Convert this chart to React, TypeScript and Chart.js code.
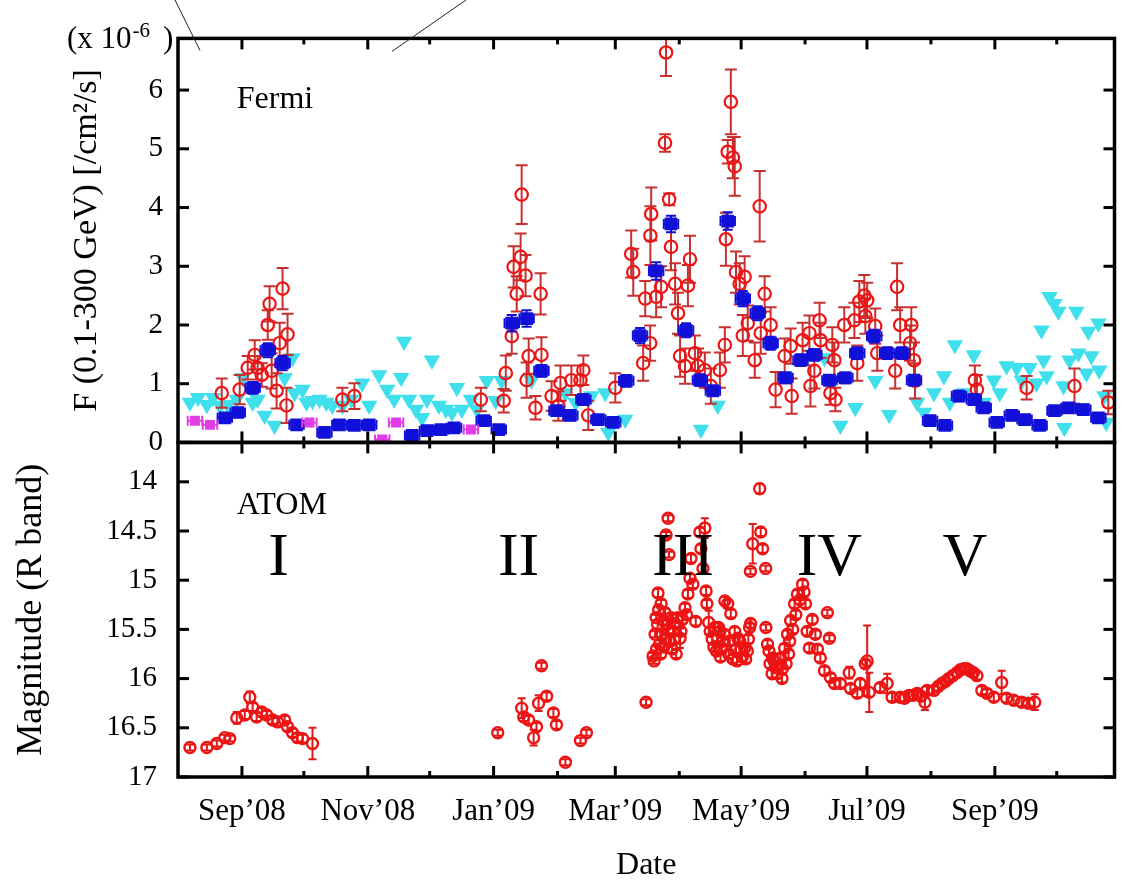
import React, { useEffect, useRef } from 'react';
import { Chart, registerables } from 'chart.js';

Chart.register(...registerables);

const FONT = "'Liberation Serif', 'Times New Roman', serif";

// x axis: days since 2008-08-01
const X_MIN = 0;
const X_MAX = 454;
const monthStartDays = [31, 61, 92, 122, 153, 184, 212, 243, 273, 304, 334, 365, 396, 426];
const labelledMonthDays = [31, 92, 153, 212, 273, 334, 396];
const monthLabels = ['Sep\u201908', 'Nov\u201908', 'Jan\u201909', 'Mar\u201909', 'May\u201909', 'Jul\u201909', 'Sep\u201909'];

const fluxTicks = [0, 1, 2, 3, 4, 5, 6];
const magTicks = [14, 14.5, 15, 15.5, 16, 16.5, 17];

// Fermi daily flux (x1e-6 /cm2/s)
const fermiDailyDay = [
  21.2, 29.9, 33.8, 37.2, 38.6, 40.6, 43.5, 44.4, 45.4, 47.8,
  49.3, 50.7, 52.6, 53.1, 79.7, 85.5, 146.8, 157.9, 158.9, 161.8,
  162.7, 164.2, 166.1, 166.6, 168.5, 169.0, 170.0, 173.3, 175.8, 176.2,
  181.1, 184.4, 185.4, 190.7, 195.1, 196.5, 198.9, 212.0, 219.7, 220.7,
  225.5, 226.5, 228.9, 229.0, 229.4, 231.8, 234.2, 236.1, 236.6, 238.1,
  239.0, 241.0, 242.4, 243.4, 245.8, 247.2, 248.2, 250.6, 252.1, 255.4,
  258.3, 262.7, 265.1, 265.6, 266.5, 268.0, 269.0, 269.9, 270.5, 272.3,
  273.8, 274.7, 276.2, 279.6, 282.0, 282.5, 284.4, 287.3, 289.7, 294.1,
  297.0, 297.5, 302.8, 306.1, 306.6, 308.5, 311.0, 311.5, 316.3, 317.2,
  318.2, 318.7, 323.0, 327.9, 329.3, 330.3, 332.7, 333.2, 334.1, 338.0,
  339.0, 347.7, 348.6, 350.1, 354.9, 355.5, 356.8, 357.3, 386.3, 387.3,
  411.4, 434.6, 451.0,
];
const fermiDailyFlux = [
  0.84, 0.90, 1.27, 1.49, 1.27, 1.15, 2.00, 2.36, 1.22, 0.88,
  1.69, 2.62, 0.63, 1.84, 0.73, 0.79, 0.73, 0.71, 1.18, 1.81,
  2.99, 2.53, 3.16, 4.22, 2.84, 1.06, 1.47, 0.59, 2.53, 1.49,
  0.79, 0.62, 1.01, 1.06, 1.06, 1.23, 0.46, 0.93, 3.21, 2.90,
  1.35, 2.45, 1.69, 3.52, 3.89, 2.48, 2.65, 5.10, 6.64, 4.14,
  3.33, 2.70, 2.20, 1.47, 1.30, 2.67, 3.12, 1.52, 1.30, 1.23,
  0.96, 1.23, 1.66, 3.46, 4.95, 5.80, 4.85, 4.70, 2.90, 2.70,
  1.82, 2.82, 2.03, 1.40, 4.02, 1.86, 2.53, 2.00, 0.90, 1.47,
  1.64, 0.79, 1.74, 1.86, 0.96, 1.22, 2.08, 1.74, 0.84, 1.66,
  1.40, 0.73, 2.00, 2.08, 1.35, 2.40, 2.50, 2.15, 2.42, 1.98,
  1.52, 1.22, 2.65, 2.00, 1.69, 2.00, 1.40, 1.05, 1.06, 0.90,
  0.93, 0.96, 0.68,
];
const fermiDailyErr = [
  0.25, 0.25, 0.20, 0.25, 0.20, 0.20, 0.25, 0.30, 0.30, 0.30,
  0.35, 0.35, 0.30, 0.35, 0.20, 0.22, 0.20, 0.20, 0.30, 0.30,
  0.35, 0.30, 0.40, 0.50, 0.35, 0.30, 0.30, 0.20, 0.35, 0.30,
  0.25, 0.25, 0.30, 0.25, 0.25, 0.25, 0.25, 0.25, 0.40, 0.40,
  0.30, 0.30, 0.30, 0.50, 0.45, 0.35, 0.35, 0.15, 0.40, 0.10,
  0.40, 0.35, 0.35, 0.35, 0.30, 0.35, 0.40, 0.30, 0.30, 0.30,
  0.30, 0.30, 0.30, 0.45, 0.20, 0.55, 0.35, 0.50, 0.35, 0.35,
  0.35, 0.35, 0.30, 0.30, 0.60, 0.35, 0.30, 0.30, 0.30, 0.30,
  0.30, 0.30, 0.30, 0.30, 0.35, 0.30, 0.30, 0.30, 0.20, 0.30,
  0.30, 0.20, 0.30, 0.30, 0.30, 0.35, 0.35, 0.30, 0.30, 0.30,
  0.30, 0.30, 0.40, 0.30, 0.30, 0.30, 0.30, 0.30, 0.25, 0.25,
  0.20, 0.30, 0.20,
];

// Fermi weekly flux
const fermiWeeklyDay = [
  22.7, 29.0, 36.2, 43.5, 50.7, 57.5, 71.0, 78.2, 85.5, 92.7,
  113.5, 120.7, 127.5, 133.8, 148.2, 155.5, 161.8, 169.0, 176.2, 183.5,
  190.2, 196.5, 203.8, 211.0, 217.3, 224.0, 231.8, 239.0, 246.3, 253.0,
  259.3, 266.5, 273.8, 281.0, 287.3, 294.5, 301.8, 308.5, 315.8, 323.5,
  329.3, 337.5, 343.8, 351.0, 356.8, 364.6, 371.8, 378.6, 385.8, 390.6,
  396.9, 404.2, 410.4, 417.7, 424.9, 431.7, 438.9, 446.2,
];
const fermiWeeklyFlux = [
  0.42, 0.51, 0.93, 1.57, 1.35, 0.30, 0.17, 0.30, 0.29, 0.30,
  0.12, 0.20, 0.22, 0.25, 0.37, 0.22, 2.03, 2.11, 1.22, 0.54,
  0.46, 0.73, 0.39, 0.34, 1.05, 1.82, 2.92, 3.72, 1.91, 1.06,
  0.88, 3.77, 2.45, 2.20, 1.69, 1.10, 1.40, 1.49, 1.06, 1.10,
  1.52, 1.81, 1.52, 1.52, 1.06, 0.37, 0.29, 0.79, 0.73, 0.59,
  0.34, 0.46, 0.39, 0.29, 0.54, 0.59, 0.56, 0.42,
];
const fermiWeeklyErr = [
  0.08, 0.08, 0.10, 0.12, 0.12, 0.08, 0.06, 0.07, 0.07, 0.07,
  0.06, 0.06, 0.06, 0.07, 0.08, 0.07, 0.14, 0.14, 0.10, 0.08,
  0.08, 0.09, 0.07, 0.07, 0.10, 0.13, 0.15, 0.14, 0.12, 0.10,
  0.09, 0.15, 0.13, 0.12, 0.11, 0.09, 0.10, 0.10, 0.09, 0.09,
  0.10, 0.11, 0.10, 0.10, 0.09, 0.07, 0.07, 0.09, 0.09, 0.08,
  0.07, 0.08, 0.07, 0.07, 0.08, 0.08, 0.08, 0.07,
];
const weekHalfWidth = 3.5;

// magenta weekly points
const fermiLowDay = [8.2, 15.5, 63.7, 99.0, 105.7, 142.0];
const fermiLowFlux = [0.37, 0.30, 0.34, 0.05, 0.34, 0.22];

// daily upper limits (cyan triangles)
const upperLimitDay = [
  5.8, 9.7, 14.0, 16.9, 20.3, 24.1, 28.5, 31.4, 36.2, 38.6, 42.0, 46.8,
  51.7, 55.5, 56.5, 60.4, 62.3, 65.2, 68.6, 71.9, 74.8, 79.7,
  84.0, 89.3, 92.7, 97.5, 101.4, 104.8, 108.2, 109.6, 112.0, 115.4,
  118.3, 120.7, 123.1, 126.5, 129.9, 132.8, 135.2, 137.6, 142.0, 144.9,
  149.7, 154.0, 156.9, 171.4, 187.8, 192.7, 200.4, 207.1, 208.6, 216.8,
  253.5, 261.7, 313.4, 321.1, 328.3, 338.0, 344.8, 358.3, 361.7, 366.5,
  371.3, 374.2, 376.6, 381.0, 385.8, 390.6, 395.5, 398.4, 401.7, 406.6,
  409.0, 412.8, 416.2, 418.6, 419.6, 421.1, 422.5, 424.9, 426.8, 429.3,
  429.7, 432.2, 435.5, 436.5, 440.4, 441.3, 442.8, 446.2, 446.6, 449.1,
  450.0,
];
const upperLimitFlux = [
  0.68, 0.76, 0.64, 0.76, 0.63, 0.64, 0.73, 1.10, 0.68, 0.73, 0.46, 0.29,
  1.10, 1.44, 0.84, 0.90, 0.68, 0.71, 0.73, 0.68, 0.63, 0.63,
  0.73, 1.01, 0.63, 1.15, 0.90, 0.73, 1.10, 1.72, 0.73, 0.56,
  0.42, 0.73, 1.40, 0.63, 0.56, 0.51, 0.93, 0.56, 0.73, 0.56,
  1.05, 0.71, 1.05, 1.06, 0.84, 0.68, 0.79, 0.84, 0.17, 0.39,
  0.22, 0.63, 1.44, 0.29, 0.59, 1.05, 0.47, 0.68, 0.51, 0.84,
  1.13, 0.68, 1.66, 0.84, 1.49, 0.68, 1.06, 0.84, 1.30, 1.27,
  1.06, 1.27, 1.01, 1.91, 1.40, 1.13, 2.48, 2.36, 2.23, 0.96,
  0.25, 1.40, 2.23, 1.52, 1.18, 1.89, 1.47, 2.03, 1.23, 0.79,
  0.34,
];

// ATOM R-band magnitudes
const atomDay = [
  5.8, 14.0, 18.8, 22.7, 25.1, 28.5, 32.4, 34.8, 36.2, 38.1,
  40.6, 43.0, 45.9, 48.3, 51.7, 53.1, 55.5, 57.9, 60.4, 65.2,
  155.0, 166.6, 167.6, 170.0, 172.4, 173.8, 174.8, 176.2, 178.7, 182.0,
  183.5, 187.8, 195.1, 198.0, 226.9, 230.3, 230.8, 231.3, 231.8, 232.7,
  233.5, 234.2, 234.7, 235.2, 236.1, 236.5, 236.6, 237.6, 237.8, 238.0,
  239.0, 239.5, 240.5, 241.0, 242.4, 243.4, 243.8, 245.8, 247.2, 248.2,
  248.7, 249.6, 253.0, 253.5, 254.5, 255.4, 256.0, 256.4, 257.3, 259.0,
  260.3, 261.0, 262.0, 262.7, 263.5, 264.1, 265.1, 266.5, 267.0, 268.0,
  269.9, 270.5, 271.4, 272.3, 273.5, 274.7, 276.0, 277.1, 277.5, 277.6,
  278.6, 282.0, 282.5, 283.4, 284.9, 285.0, 285.8, 287.0, 288.3, 289.7,
  290.5, 292.1, 293.0, 294.1, 295.5, 296.0, 297.0, 298.9, 300.3, 302.8,
  304.2, 305.0, 306.1, 311.4, 313.4, 314.8, 315.8, 316.3, 318.2, 321.1,
  325.4, 326.0, 329.3, 330.7, 333.2, 334.1, 335.1, 340.4, 343.8, 346.2,
  350.1, 352.2, 354.4, 356.3, 358.3, 360.2, 362.1, 363.1, 366.5, 368.5,
  370.3, 372.0, 373.7, 375.6, 377.6, 379.3, 381.0, 382.4, 383.9, 385.6,
  387.3, 389.7, 392.1, 395.5, 399.3, 401.7, 405.1, 409.0, 412.4, 415.3,
  232.0, 232.5, 233.0, 234.0, 235.5, 237.0, 238.5, 240.0, 241.5, 244.5,
  246.5, 251.0, 258.0, 259.8, 261.5, 263.0, 264.8, 267.5, 269.0, 271.0,
  272.8, 275.2, 276.5, 286.5, 288.0, 289.0, 291.0, 292.8, 294.8, 296.5,
  298.0, 299.5, 301.5, 303.5, 307.5, 309.0, 310.0,
];
const atomMag = [
  16.70, 16.70, 16.66, 16.60, 16.61, 16.40, 16.37, 16.19, 16.29, 16.39,
  16.34, 16.37, 16.42, 16.44, 16.42, 16.49, 16.55, 16.60, 16.61, 16.66,
  16.55, 16.30, 16.39, 16.42, 16.60, 16.49, 16.25, 15.87, 16.18, 16.35,
  16.47, 16.85, 16.63, 16.55, 16.24, 15.77, 15.82, 15.55, 15.38, 15.13,
  15.65, 15.24, 15.55, 15.41, 15.33, 15.60, 14.54, 14.37, 15.50, 14.74,
  15.38, 15.70, 15.60, 15.44, 15.38, 15.59, 15.52, 15.28, 15.14, 14.98,
  14.78, 15.04, 14.51, 14.68, 14.88, 14.47, 15.11, 15.24, 15.43, 15.60,
  15.48, 15.72, 15.48, 15.52, 15.70, 15.62, 15.21, 15.24, 15.75, 15.34,
  15.52, 15.70, 15.59, 15.62, 15.78, 15.69, 15.72, 15.48, 14.91, 15.44,
  14.63, 14.07, 14.51, 14.68, 14.88, 15.48, 15.65, 15.85, 15.79, 15.89,
  15.95, 15.79, 15.90, 15.69, 15.55, 15.75, 15.41, 15.24, 15.14, 15.04,
  15.24, 15.52, 15.69, 15.79, 15.92, 15.33, 15.59, 15.99, 16.05, 16.05,
  15.94, 16.10, 16.15, 16.05, 15.85, 15.82, 16.14, 16.09, 16.05, 16.19,
  16.19, 16.20, 16.17, 16.17, 16.15, 16.18, 16.24, 16.12, 16.12, 16.08,
  16.05, 16.03, 16.00, 15.97, 15.94, 15.91, 15.90, 15.90, 15.92, 15.94,
  15.97, 16.12, 16.15, 16.19, 16.04, 16.20, 16.22, 16.24, 16.25, 16.24,
  15.70, 15.45, 15.30, 15.75, 15.68, 15.45, 15.62, 15.52, 15.75, 15.40,
  15.35, 15.42, 15.52, 15.68, 15.58, 15.78, 15.55, 15.62, 15.80, 15.82,
  15.70, 15.80, 15.60, 15.72, 15.95, 15.82, 15.88, 16.00, 15.85, 15.62,
  15.50, 15.35, 15.20, 15.12, 15.40, 15.55, 15.70,
];
const atomErr = [
  0.03, 0.03, 0.03, 0.03, 0.03, 0.06, 0.04, 0.06, 0.04, 0.04,
  0.04, 0.04, 0.04, 0.04, 0.04, 0.04, 0.04, 0.04, 0.04, 0.16,
  0.03, 0.10, 0.04, 0.04, 0.08, 0.04, 0.08, 0.03, 0.04, 0.04,
  0.04, 0.03, 0.03, 0.03, 0.03, 0.03, 0.03, 0.03, 0.03, 0.04,
  0.04, 0.04, 0.04, 0.04, 0.04, 0.04, 0.03, 0.03, 0.04, 0.03,
  0.04, 0.04, 0.04, 0.04, 0.04, 0.10, 0.04, 0.04, 0.04, 0.04,
  0.04, 0.04, 0.04, 0.04, 0.04, 0.10, 0.04, 0.04, 0.12, 0.04,
  0.04, 0.04, 0.04, 0.04, 0.04, 0.04, 0.04, 0.04, 0.04, 0.04,
  0.04, 0.04, 0.04, 0.04, 0.04, 0.04, 0.04, 0.04, 0.03, 0.04,
  0.20, 0.05, 0.04, 0.04, 0.03, 0.03, 0.04, 0.04, 0.04, 0.04,
  0.04, 0.04, 0.04, 0.04, 0.04, 0.04, 0.04, 0.04, 0.04, 0.04,
  0.04, 0.04, 0.04, 0.04, 0.04, 0.03, 0.03, 0.04, 0.04, 0.04,
  0.06, 0.04, 0.04, 0.04, 0.04, 0.36, 0.20, 0.04, 0.10, 0.04,
  0.04, 0.04, 0.04, 0.04, 0.04, 0.04, 0.08, 0.04, 0.04, 0.04,
  0.04, 0.04, 0.04, 0.04, 0.04, 0.04, 0.04, 0.04, 0.04, 0.04,
  0.04, 0.04, 0.04, 0.04, 0.12, 0.04, 0.04, 0.04, 0.04, 0.08,
  0.04, 0.04, 0.04, 0.04, 0.04, 0.04, 0.04, 0.04, 0.04, 0.04,
  0.04, 0.04, 0.04, 0.04, 0.04, 0.04, 0.04, 0.04, 0.04, 0.04,
  0.04, 0.04, 0.04, 0.04, 0.04, 0.04, 0.04, 0.04, 0.04, 0.04,
  0.04, 0.04, 0.04, 0.04, 0.04, 0.04, 0.04,
];

// annotation texts (placed in data coordinates)
const periodLabels = ['I', 'II', 'III', 'IV', 'V'];
const periodDays = [48.8, 165.1, 244.8, 315.8, 381.5];
const periodLabelMag = 14.95;
const panelNames = ['Fermi', 'ATOM'];
const panelNameDay = 28.5;
const fermiNameFlux = 5.69;
const atomNameMag = 14.33;

const pts = (xs: number[], ys: number[]) => xs.map((x, i) => ({ x, y: ys[i] }));

const errorBarPlugin = {
  id: 'errorBars',
  beforeDatasetDraw(chart: any, args: any) {
    const ds = chart.data.datasets[args.index];
    if (!ds.errY && !ds.errX) return;
    const meta = args.meta;
    const xs = chart.scales[meta.xAxisID];
    const ys = chart.scales[meta.yAxisID];
    const ctx = chart.ctx;
    ctx.save();
    ctx.beginPath();
    ctx.rect(xs.left, ys.top, xs.right - xs.left, ys.bottom - ys.top);
    ctx.clip();
    ctx.strokeStyle = ds.errColor;
    ctx.lineWidth = ds.errWidth;
    const cap = ds.errCap;
    ctx.beginPath();
    ds.data.forEach((p: any, i: number) => {
      const px = xs.getPixelForValue(p.x);
      const py = ys.getPixelForValue(p.y);
      if (ds.errY) {
        const e = ds.errY[i];
        const y1 = ys.getPixelForValue(p.y - e);
        const y2 = ys.getPixelForValue(p.y + e);
        ctx.moveTo(px, y1); ctx.lineTo(px, y2);
        ctx.moveTo(px - cap, y1); ctx.lineTo(px + cap, y1);
        ctx.moveTo(px - cap, y2); ctx.lineTo(px + cap, y2);
      }
      if (ds.errX) {
        const x1 = xs.getPixelForValue(p.x - ds.errX);
        const x2 = xs.getPixelForValue(p.x + ds.errX);
        ctx.moveTo(x1, py); ctx.lineTo(x2, py);
        ctx.moveTo(x1, py - cap); ctx.lineTo(x1, py + cap);
        ctx.moveTo(x2, py - cap); ctx.lineTo(x2, py + cap);
      }
    });
    ctx.stroke();
    ctx.restore();
  },
};

const framePlugin = {
  id: 'frame',
  afterDraw(chart: any) {
    const ctx = chart.ctx;
    const xs = chart.scales.x;
    const panels = [
      { s: chart.scales.y, ticks: fluxTicks },
      { s: chart.scales.y2, ticks: magTicks },
    ];
    ctx.save();
    ctx.strokeStyle = '#000';
    const line = (x1: number, y1: number, x2: number, y2: number) => {
      ctx.beginPath(); ctx.moveTo(x1, y1); ctx.lineTo(x2, y2); ctx.stroke();
    };
    panels.forEach(({ s: ys, ticks }) => {
      ctx.lineWidth = 3;
      monthStartDays.forEach((d) => {
        const px = xs.getPixelForValue(d);
        const len = labelledMonthDays.includes(d) ? 11 : 6;
        line(px, ys.top, px, ys.top + len);
        line(px, ys.bottom, px, ys.bottom - len);
      });
      ticks.forEach((v: number) => {
        const py = ys.getPixelForValue(v);
        line(xs.left, py, xs.left + 11, py);
        line(xs.right, py, xs.right - 11, py);
      });
      ctx.lineWidth = 3.5;
      ctx.strokeRect(xs.left, ys.top, xs.right - xs.left, ys.bottom - ys.top);
    });
    ctx.restore();
  },
};

const annotationPlugin = {
  id: 'annotations',
  afterDraw(chart: any) {
    const ctx = chart.ctx;
    const area = chart.chartArea;
    const xs = chart.scales.x;
    const y = chart.scales.y;
    const y2 = chart.scales.y2;
    ctx.save();
    ctx.fillStyle = '#000';
    ctx.textBaseline = 'alphabetic';
    ctx.textAlign = 'left';
    ctx.font = `32px ${FONT}`;
    ctx.fillText(panelNames[0], xs.getPixelForValue(panelNameDay), y.getPixelForValue(fermiNameFlux));
    ctx.fillText(panelNames[1], xs.getPixelForValue(panelNameDay), y2.getPixelForValue(atomNameMag));
    ctx.font = `62px ${FONT}`;
    ctx.textAlign = 'center';
    periodLabels.forEach((t, i) => {
      ctx.fillText(t, xs.getPixelForValue(periodDays[i]), y2.getPixelForValue(periodLabelMag));
    });
    // exponent label
    ctx.textAlign = 'left';
    ctx.font = `31px ${FONT}`;
    const bx = area.left - 111;
    const by = area.top + 10;
    ctx.fillText('(x 10', bx, by);
    const w = ctx.measureText('(x 10').width;
    ctx.font = `21px ${FONT}`;
    ctx.fillText('-6', bx + w + 1, by - 11);
    ctx.font = `31px ${FONT}`;
    ctx.fillText(')', area.left - 15, by);
    // thin guide lines from the source figure
    ctx.strokeStyle = '#222';
    ctx.lineWidth = 1;
    ctx.beginPath();
    ctx.moveTo(area.left - 3, 0); ctx.lineTo(area.left + 22, area.top + 12);
    ctx.moveTo(area.left + 288, 0); ctx.lineTo(area.left + 214, area.top + 13);
    ctx.stroke();
    ctx.restore();
  },
};

export default function App() {
  const ref = useRef<HTMLCanvasElement>(null);
  useEffect(() => {
    Chart.defaults.font.family = FONT;
    Chart.defaults.color = '#000';
    const chart = new Chart(ref.current as HTMLCanvasElement, {
      type: 'scatter',
      data: {
        datasets: [
          {
            label: 'ATOM',
            data: pts(atomDay, atomMag),
            yAxisID: 'y2',
            pointStyle: 'circle',
            pointRadius: 5.5,
            borderWidth: 2.4,
            borderColor: '#ee1414',
            backgroundColor: 'rgba(0,0,0,0)',
            order: 0,
            errY: atomErr,
            errColor: '#e01818',
            errWidth: 2,
            errCap: 4,
          } as any,
          {
            label: 'weekly (low)',
            data: pts(fermiLowDay, fermiLowFlux),
            yAxisID: 'y',
            pointStyle: 'rect',
            pointRadius: 7,
            borderWidth: 0,
            backgroundColor: '#e03ee4',
            borderColor: '#e03ee4',
            order: 1,
            errX: weekHalfWidth,
            errColor: '#e03ee4',
            errWidth: 2,
            errCap: 5,
          } as any,
          {
            label: 'Fermi weekly',
            data: pts(fermiWeeklyDay, fermiWeeklyFlux),
            yAxisID: 'y',
            pointStyle: 'rect',
            pointRadius: 9,
            borderWidth: 0,
            backgroundColor: '#1010d8',
            borderColor: '#1010d8',
            order: 2,
            errY: fermiWeeklyErr,
            errX: weekHalfWidth,
            errColor: '#1010d8',
            errWidth: 2,
            errCap: 5,
          } as any,
          {
            label: 'Fermi daily',
            data: pts(fermiDailyDay, fermiDailyFlux),
            yAxisID: 'y',
            pointStyle: 'circle',
            pointRadius: 6.2,
            borderWidth: 2.2,
            borderColor: '#ee1414',
            backgroundColor: 'rgba(0,0,0,0)',
            order: 3,
            errY: fermiDailyErr,
            errColor: '#c83030',
            errWidth: 2,
            errCap: 6,
          } as any,
          {
            label: 'upper limits',
            data: pts(upperLimitDay, upperLimitFlux),
            yAxisID: 'y',
            pointStyle: 'triangle',
            pointRotation: 180,
            pointRadius: 9.5,
            borderWidth: 0,
            backgroundColor: '#3fe0ec',
            borderColor: '#3fe0ec',
            order: 4,
          } as any,
        ],
      },
      options: {
        responsive: false,
        animation: false,
        events: [],
        layout: { padding: { top: 33, right: 6, left: 0, bottom: 0 } },
        plugins: { legend: { display: false }, tooltip: { enabled: false } },
        scales: {
          x: {
            type: 'linear',
            position: 'bottom',
            min: X_MIN,
            max: X_MAX,
            grid: { display: false, drawTicks: false },
            border: { display: false },
            afterBuildTicks: (s: any) => {
              s.ticks = labelledMonthDays.map((v) => ({ value: v }));
            },
            afterFit: (s: any) => {
              s.height = 113;
            },
            ticks: {
              autoSkip: false,
              maxRotation: 0,
              padding: 16,
              font: { size: 31 },
              color: '#000',
              callback: (_v: any, i: number) => monthLabels[i],
            },
            title: {
              display: true,
              text: 'Date',
              font: { size: 32 },
              color: '#000',
              padding: { top: 0, bottom: 5 },
            },
          },
          y: {
            type: 'linear',
            position: 'left',
            stack: 'panels',
            stackWeight: 407,
            weight: 2,
            min: 0,
            max: 6.88,
            grid: { display: false, drawTicks: false },
            border: { display: false },
            afterBuildTicks: (s: any) => {
              s.ticks = fluxTicks.map((v) => ({ value: v }));
            },
            afterFit: (s: any) => {
              s.width = 178;
            },
            ticks: {
              autoSkip: false,
              padding: 15,
              font: { size: 29 },
              color: '#000',
              callback: (v: any) => String(v),
            },
            title: {
              display: true,
              text: 'F (0.1-300 GeV) [/cm\u00b2/s]',
              font: { size: 34 },
              color: '#000',
              padding: { top: 67, bottom: 0 },
            },
          },
          y2: {
            type: 'linear',
            position: 'left',
            stack: 'panels',
            stackWeight: 337,
            weight: 1,
            reverse: true,
            min: 13.6,
            max: 17,
            grid: { display: false, drawTicks: false },
            border: { display: false },
            afterBuildTicks: (s: any) => {
              s.ticks = magTicks.map((v) => ({ value: v }));
            },
            afterFit: (s: any) => {
              s.width = 178;
            },
            ticks: {
              autoSkip: false,
              padding: 21,
              font: { size: 29 },
              color: '#000',
              callback: (v: any) => String(v),
            },
            title: {
              display: true,
              text: 'Magnitude (R band)',
              font: { size: 36 },
              color: '#000',
              padding: { top: 10, bottom: 0 },
            },
          },
        },
      } as any,
      plugins: [errorBarPlugin, framePlugin, annotationPlugin],
    });
    return () => chart.destroy();
  }, []);

  return (
    <div style={{ position: 'fixed', left: 0, top: 0, width: 1124, height: 890, background: '#fff' }}>
      <canvas ref={ref} width={1124} height={890} style={{ display: 'block', width: 1124, height: 890 }} />
    </div>
  );
}
